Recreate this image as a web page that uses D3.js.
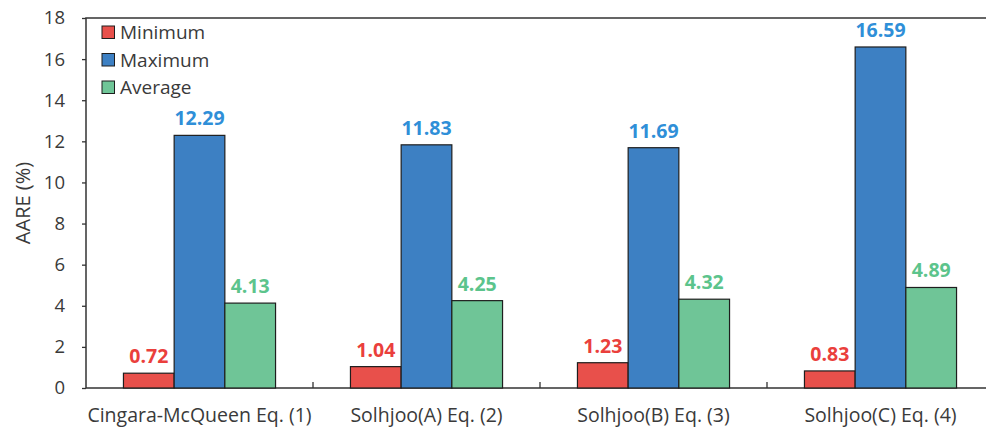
<!DOCTYPE html>
<html>
<head>
<meta charset="utf-8">
<script src="https://cdn.jsdelivr.net/npm/d3@7"></script>
<style>
  html, body { margin: 0; padding: 0; background: #fff; }
  svg { display: block; }
  text { font-family: "Open Sans", "Noto Sans", sans-serif; }
</style>
</head>
<body>
<svg id="chart" width="986" height="430"></svg>
<script>
// Categories and series values
const categories = ["Cingara-McQueen Eq. (1)", "Solhjoo(A) Eq. (2)", "Solhjoo(B) Eq. (3)", "Solhjoo(C) Eq. (4)"];
const seriesNames = ["Minimum", "Maximum", "Average"];
const minimum = [0.72, 1.04, 1.23, 0.83];
const maximum = [12.29, 11.83, 11.69, 16.59];
const average = [4.13, 4.25, 4.32, 4.89];
const yTicks = [0, 2, 4, 6, 8, 10, 12, 14, 16, 18];

const fills = ["#e8504b", "#3d80c3", "#6fc597"];
const labelColors = ["#ea3f3c", "#2f8fd8", "#5cc48c"];

const series = [minimum, maximum, average];
const rows = categories.map((c, i) => ({
  category: c,
  values: series.map((s, k) => ({ key: seriesNames[k], k, value: s[i] }))
}));

const svg = d3.select("#chart");
const margin = { left: 86, top: 18, right: -8, bottom: 42 };
const W = 986, H = 430;
const x0 = margin.left, x1 = W - margin.right;
const y0 = H - margin.bottom, y1 = margin.top;

const x = d3.scaleBand().domain(categories).range([x0, x1]).paddingInner(0).paddingOuter(0);
const inner = d3.scaleBand().domain(seriesNames).range([0, x.bandwidth() * 0.67]);
const groupOffset = (x.bandwidth() - inner.range()[1]) / 2;
const y = d3.scaleLinear().domain([0, 18]).range([y0, y1]);

const axisColor = "#333";
const textColor = "#3a3a3a";

// Plot frame
svg.append("rect")
  .attr("x", x0).attr("y", y1)
  .attr("width", x1 - x0).attr("height", y0 - y1)
  .attr("fill", "none").attr("stroke", axisColor).attr("stroke-width", 1.5);

// Y axis
const yAxis = svg.append("g")
  .attr("transform", `translate(${x0},0)`)
  .call(d3.axisLeft(y).tickValues(yTicks).tickSize(4).tickPadding(17).tickFormat(d3.format("d")));
yAxis.select(".domain").remove();
yAxis.selectAll("line").attr("stroke", axisColor).attr("stroke-width", 1.3);
yAxis.selectAll("text").attr("fill", textColor).attr("font-size", 18.5);

// Category separators on the bottom axis
svg.append("g").selectAll("line")
  .data(categories.slice(1))
  .join("line")
  .attr("x1", d => x(d)).attr("x2", d => x(d))
  .attr("y1", y0).attr("y2", y0 - 6)
  .attr("stroke", axisColor).attr("stroke-width", 1.3);

// X category labels
const xAxis = svg.append("g")
  .attr("transform", `translate(0,${y0})`)
  .call(d3.axisBottom(x).tickSize(0).tickPadding(20));
xAxis.select(".domain").remove();
xAxis.selectAll("text").attr("fill", textColor).attr("font-size", 19.5);

// Y title
svg.append("text")
  .attr("transform", `translate(30,${(y0 + y1) / 2}) rotate(-90)`)
  .attr("text-anchor", "middle")
  .attr("fill", textColor)
  .attr("font-size", 20)
  .text("AARE (%)");

// Bars
const groups = svg.append("g").selectAll("g")
  .data(rows)
  .join("g")
  .attr("transform", d => `translate(${x(d.category) + groupOffset},0)`);

groups.selectAll("rect")
  .data(d => d.values)
  .join("rect")
  .attr("x", d => inner(d.key))
  .attr("y", d => y(d.value))
  .attr("width", inner.bandwidth())
  .attr("height", d => y(0) - y(d.value))
  .attr("fill", d => fills[d.k])
  .attr("stroke", "#1e1e1e")
  .attr("stroke-width", 1.2);

// Value labels
groups.selectAll("text.val")
  .data(d => d.values)
  .join("text")
  .attr("class", "val")
  .attr("x", d => inner(d.key) + inner.bandwidth() / 2)
  .attr("y", d => y(d.value) - 10)
  .attr("text-anchor", "middle")
  .attr("font-size", 19.5)
  .attr("font-weight", "bold")
  .attr("fill", d => labelColors[d.k])
  .text(d => d3.format(".2f")(d.value));

// Legend
const legend = svg.append("g").selectAll("g")
  .data(seriesNames)
  .join("g")
  .attr("transform", (d, i) => `translate(102,${26 + i * 27.5})`);
legend.append("rect")
  .attr("width", 12.5).attr("height", 12.5)
  .attr("fill", (d, i) => fills[i])
  .attr("stroke", "#1e1e1e").attr("stroke-width", 1);
legend.append("text")
  .attr("x", 18).attr("y", 13)
  .attr("fill", textColor)
  .attr("font-size", 19)
  .text(d => d);
</script>
</body>
</html>
